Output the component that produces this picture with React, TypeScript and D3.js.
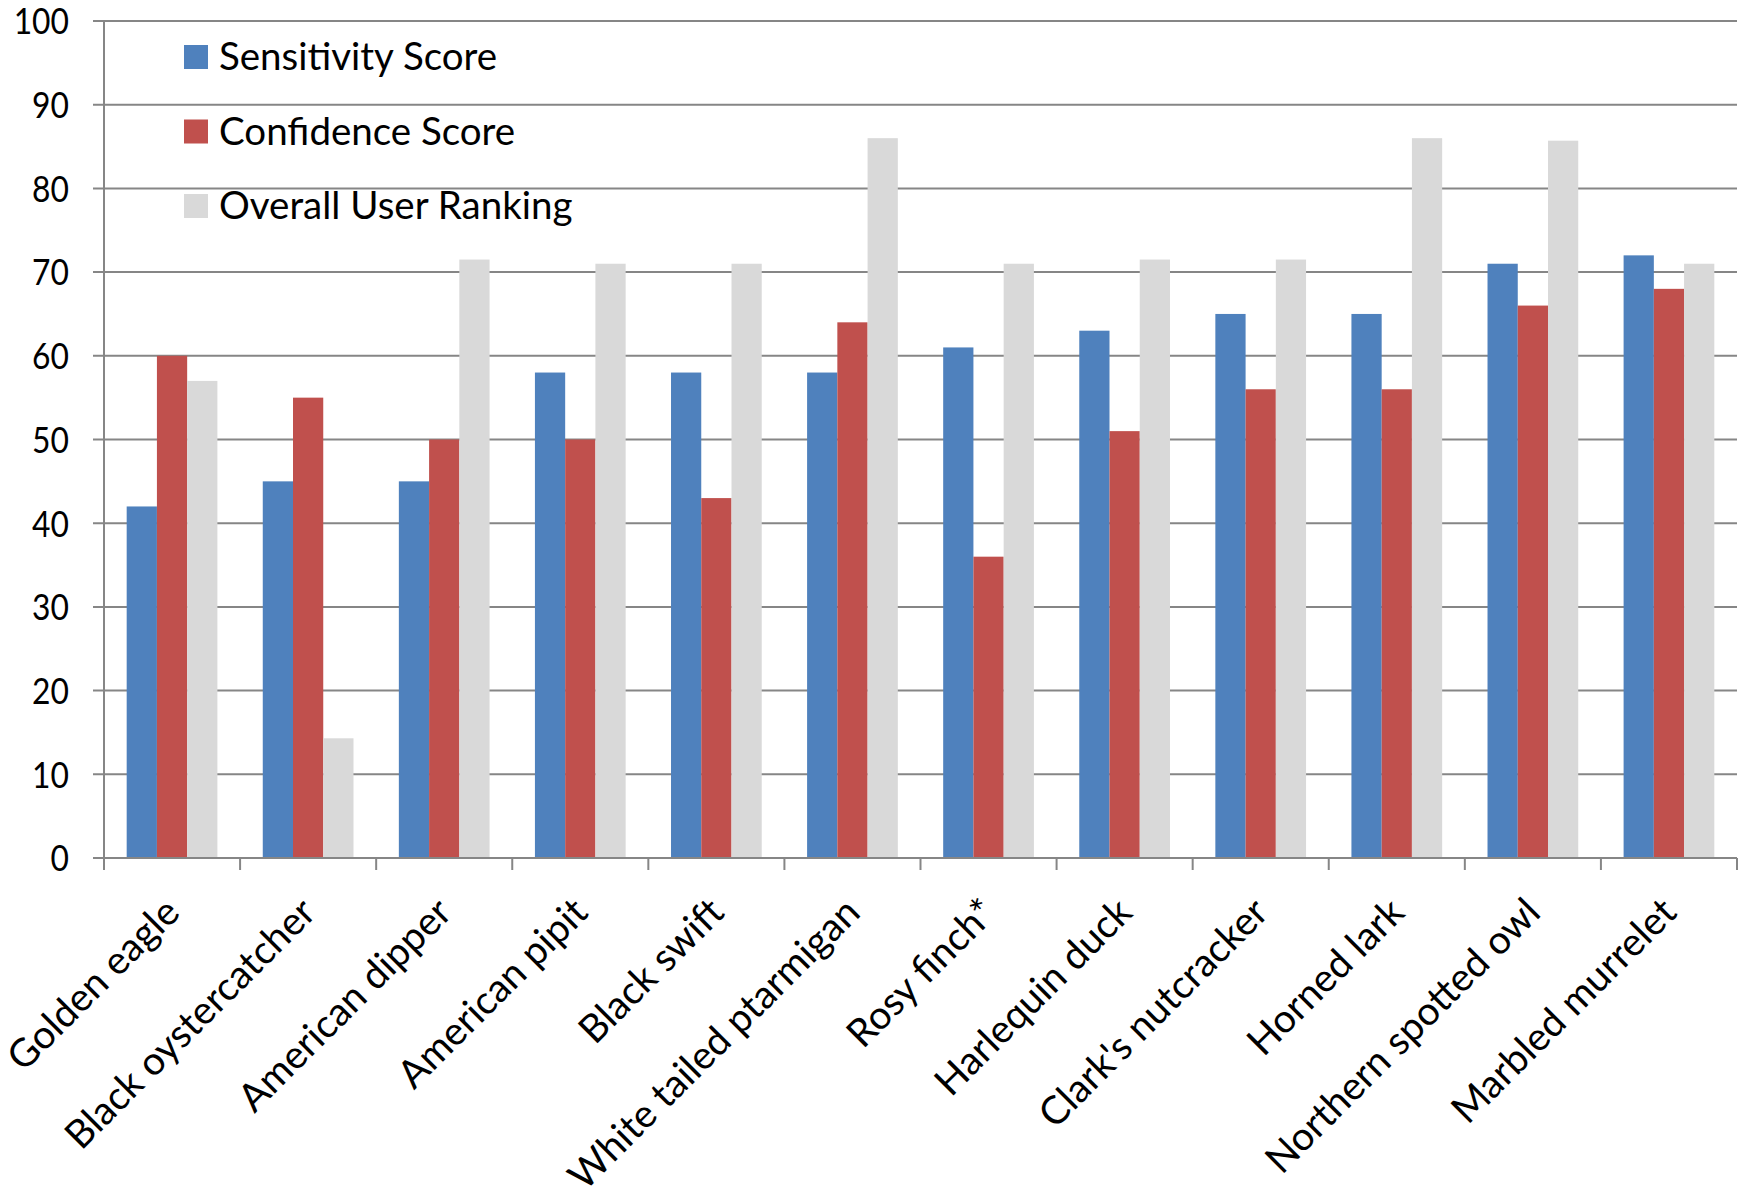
import React, { useEffect, useRef } from "react";
import * as d3 from "d3";

const categories = [
  "Golden eagle",
  "Black oystercatcher",
  "American dipper",
  "American pipit",
  "Black swift",
  "White tailed ptarmigan",
  "Rosy finch*",
  "Harlequin duck",
  "Clark's nutcracker",
  "Horned lark",
  "Northern spotted owl",
  "Marbled murrelet",
];
const sensitivityScore = [42, 45, 45, 58, 58, 58, 61, 63, 65, 65, 71, 72];
const confidenceScore = [60, 55, 50, 50, 43, 64, 36, 51, 56, 56, 66, 68];
const overallUserRanking = [57, 14.3, 71.5, 71, 71, 86, 71, 71.5, 71.5, 86, 85.7, 71];
const seriesNames = ["Sensitivity Score", "Confidence Score", "Overall User Ranking"];
const seriesColors = ["#4F81BD", "#C0504D", "#D9D9D9"];
const yTicks = [0, 10, 20, 30, 40, 50, 60, 70, 80, 90, 100];

const W = 1746;
const H = 1191;
const FONT = "Lato, 'Liberation Sans', sans-serif";
const FS = 38.5;

export default function App() {
  const ref = useRef<SVGSVGElement>(null);

  useEffect(() => {
    const svg = d3.select(ref.current);
    svg.selectAll("*").remove();

    const left = 104, right = 1737, top = 21, bottom = 858;
    const x0 = d3.scaleBand<string>().domain(categories).range([left, right]).padding(0);
    const bw = x0.bandwidth();
    const x1 = d3
      .scaleBand<string>()
      .domain(seriesNames)
      .range([bw / 6, bw - bw / 6])
      .padding(0);
    const y = d3.scaleLinear().domain([0, 100]).range([bottom, top]);

    const grid = "#868686";

    // gridlines
    svg
      .append("g")
      .selectAll("line")
      .data(yTicks)
      .join("line")
      .attr("x1", left - 11)
      .attr("x2", right)
      .attr("y1", (d) => y(d))
      .attr("y2", (d) => y(d))
      .attr("stroke", grid)
      .attr("stroke-width", 2);

    // y labels
    svg
      .append("g")
      .selectAll("text")
      .data(yTicks)
      .join("text")
      .attr("transform", (d) => `translate(69,${y(d)}) scale(0.86,1)`)
      .attr("dy", "0.36em")
      .attr("text-anchor", "end")
      .attr("font-family", FONT)
      .attr("font-size", 37)
      .attr("fill", "#000")
      .text((d) => d);

    const series = [sensitivityScore, confidenceScore, overallUserRanking];
    const gBars = svg.append("g");
    series.forEach((vals, si) => {
      gBars
        .append("g")
        .selectAll("rect")
        .data(categories.map((c, i) => ({ c, v: vals[i] })))
        .join("rect")
        .attr("x", (d) => (x0(d.c) as number) + (x1(seriesNames[si]) as number))
        .attr("y", (d) => y(d.v))
        .attr("width", x1.bandwidth())
        .attr("height", (d) => y(0) - y(d.v))
        .attr("fill", seriesColors[si]);
    });

    // axes
    svg
      .append("line")
      .attr("x1", left)
      .attr("x2", left)
      .attr("y1", top)
      .attr("y2", bottom)
      .attr("stroke", grid)
      .attr("stroke-width", 2);
    svg
      .append("line")
      .attr("x1", left)
      .attr("x2", right)
      .attr("y1", bottom)
      .attr("y2", bottom)
      .attr("stroke", grid)
      .attr("stroke-width", 2);

    const boundaries = categories.map((c) => x0(c) as number).concat([right]);
    svg
      .append("g")
      .selectAll("line")
      .data(boundaries)
      .join("line")
      .attr("x1", (d) => d)
      .attr("x2", (d) => d)
      .attr("y1", bottom)
      .attr("y2", bottom + 12)
      .attr("stroke", grid)
      .attr("stroke-width", 2);

    // x labels
    svg
      .append("g")
      .selectAll("text")
      .data(categories)
      .join("text")
      .attr(
        "transform",
        (d) => `translate(${(x0(d) as number) + bw / 2},${bottom + 47}) rotate(-45)`
      )
      .attr("text-anchor", "end")
      .attr("dy", "0.35em")
      .attr("font-family", FONT)
      .attr("font-size", 39)
      .attr("fill", "#000")
      .text((d) => d);

    // legend
    const lg = svg.append("g");
    seriesNames.forEach((n, i) => {
      const cy = 57 + i * 74.5;
      lg.append("rect")
        .attr("x", 184)
        .attr("y", cy - 12)
        .attr("width", 24)
        .attr("height", 24)
        .attr("fill", seriesColors[i]);
      lg.append("text")
        .attr("x", 219)
        .attr("y", cy)
        .attr("dy", "0.35em")
        .attr("font-family", FONT)
        .attr("font-size", FS)
        .attr("fill", "#000")
        .text(n);
    });
  }, []);

  return (
    <svg
      ref={ref}
      width={W}
      height={H}
      style={{ position: "absolute", left: 0, top: 0, background: "#fff" }}
    />
  );
}
